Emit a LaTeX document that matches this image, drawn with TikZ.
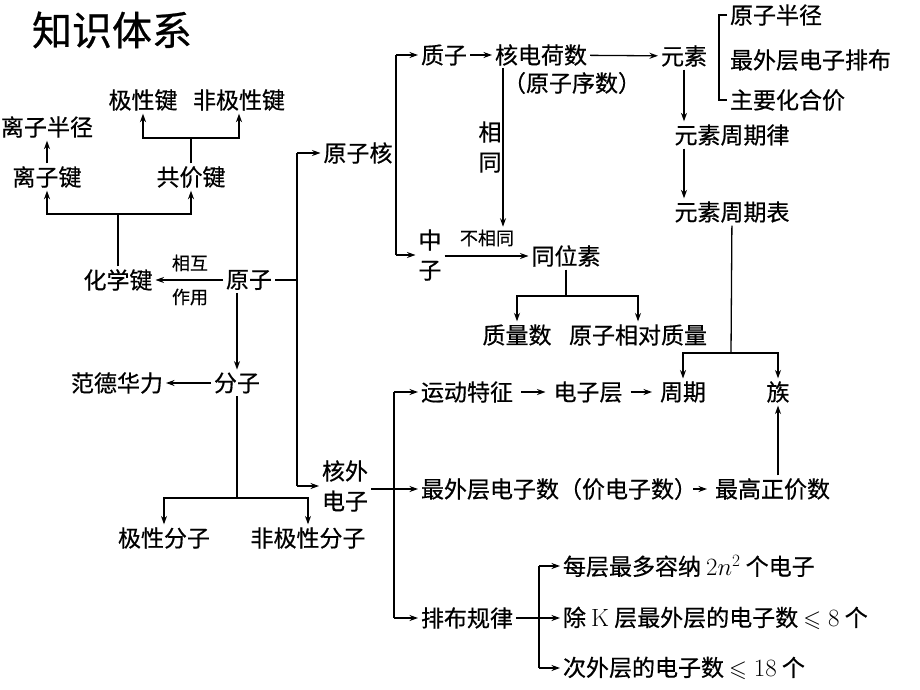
\documentclass[tikz,border=0pt]{standalone}
\usepackage{amssymb}
\usepackage[no-math]{fontspec}
\setmainfont{Noto Sans CJK SC}[FakeBold=0.6]
\usetikzlibrary{arrows.meta}
\tikzset{
  every node/.style={inner sep=0pt, outer sep=3pt, font=\fontsize{23}{30}\selectfont},
  small/.style={font=\fontsize{18}{34}\selectfont},
  titlef/.style={font=\fontsize{40}{44}\selectfont},
  conn/.style={line width=1.3pt},
  arr/.style={conn, -{Stealth[length=8.5pt,width=6pt]}},
  shortarr/.style={arr, shorten <=5pt, shorten >=5pt},
}
\begin{document}
\begin{tikzpicture}[x=1pt,y=-1pt]
\useasboundingbox (0,0) rectangle (920,690);
% title
\node[titlef] (title) at (112,30) {知识体系};
% left part
\node (lzbj) at (47,127) {离子半径};
\node (jxj) at (143,100) {极性键};
\node (fjxj) at (239,100) {非极性键};
\node (lzj) at (47,177) {离子键};
\node (gjj) at (191,177) {共价键};
\node (hxj) at (118,280) {化学键};
\node[small] (xh) at (190,263) {相互};
\node[small] (zy) at (190,297) {作用};
\node (yz) at (249,280) {原子};
\node (fz) at (237,383) {分子};
\node (fdhl) at (117,383) {范德华力};
\node (jxfz) at (164,538) {极性分子};
\node (fjxfz) at (308,538) {非极性分子};
% middle
\node (yzh) at (358,153) {原子核};
\node[align=center] (hwdz) at (345,486) {核外\\电子};
\node (zz) at (444,55) {质子};
\node (hdhs) at (541,55) {核电荷数};
\node (yzxs) at (572,83) {（原子序数）};
\node[align=center] (xt) at (490,147) {相\\同};
\node[align=center] (zhongzi) at (430,255) {中\\子};
\node[small] (bxt) at (487,238) {不相同};
\node (twsu) at (566,256) {同位素};
\node (zls) at (517,335) {质量数};
\node (yzxd) at (638,335) {原子相对质量};
% right top
\node (yuansu) at (684,56) {元素};
\node[anchor=west] (yzbj) at (727,15) {原子半径};
\node[anchor=west] (zwc) at (727,60) {最外层电子排布};
\node[anchor=west] (zyhhj) at (727,100) {主要化合价};
\node (zqlv) at (732,135) {元素周期律};
\node (zqb) at (732,212) {元素周期表};
% right middle
\node[anchor=west] (ydtz) at (418,392) {运动特征};
\node (dzc) at (588,392) {电子层};
\node (zq) at (683,392) {周期};
\node (zu) at (778,392) {族};
\node[anchor=west] (zwdzs) at (418,489) {最外层电子数（价电子数）};
\node[anchor=west] (zgzj) at (712,489) {最高正价数};
% right bottom
\node[anchor=west] (pbgl) at (418,618) {排布规律};
\node[anchor=west] (r1) at (560,566) {每层最多容纳 $2n^2$ 个电子};
\node[anchor=west] (r2) at (560,618) {除 $\mathrm{K}$ 层最外层的电子数 $\leqslant 8$ 个};
\node[anchor=west] (r3) at (560,668) {次外层的电子数 $\leqslant 18$ 个};

% coordinates
\coordinate (j1) at (297,280);
\coordinate (c1) at (297,153);
\coordinate (c2) at (297,486);
\coordinate (f1) at (118,214);
\coordinate (f2) at (191,138);
\coordinate (f3) at (237,498);
\coordinate (c3) at (396,55);
\coordinate (c4) at (396,255);
\coordinate (c5) at (503,68);
\coordinate (f4) at (566,296);
\coordinate (f5) at (731,353);
\coordinate (b1) at (719,15);
\coordinate (b2) at (719,100);
\coordinate (c7) at (394,392);
\coordinate (c8) at (394,618);
\coordinate (c10) at (539,566);
\coordinate (c11) at (539,668);
\coordinate (c9) at (539,618);

% connectors left
\draw[conn] (yz) -- (j1);
\draw[conn] (c1) -- (c2);
\draw[arr] (c1) -- (yzh);
\draw[arr] (c2) -- (hwdz);
\draw[arr] (yz) -- (hxj);
\draw[conn] (hxj) -- (f1);
\draw[arr] (f1) -| (lzj);
\draw[arr] (f1) -| (gjj);
\draw[arr] (lzj) -- (lzbj);
\draw[conn] (gjj) -- (f2);
\draw[arr] (f2) -| (jxj);
\draw[arr] (f2) -| (fjxj);
\draw[arr] (yz.south -| fz) -- (fz);
\draw[arr] (fz) -- (fdhl);
\draw[conn] (fz) -- (f3);
\draw[arr] (f3) -| (jxfz);
\draw[arr] (f3) -| (fjxfz);
% middle
\draw[conn] (yzh) -- (yzh -| c3);
\draw[conn] (c3) -- (c4);
\draw[arr] (c3) -- (zz);
\draw[arr] (c4) -- (zhongzi);
\draw[arr] (zz) -- (hdhs);
\draw[arr] (hdhs) -- (yuansu);
\draw[arr] (c5) -- (c5 |- bxt.north);
\draw[arr] (zhongzi.east |- twsu) -- (twsu);
\draw[conn] (twsu) -- (f4);
\draw[arr] (f4) -| (zls);
\draw[arr] (f4) -| (yzxd);
% right
\draw[conn] (yzbj.west) -- (b1) -- (b2) -- (zyhhj.west);
\draw[arr] (yuansu) -- (yuansu |- zqlv.north);
\draw[arr] (zqlv.south -| yuansu) -- (yuansu |- zqb.north);
\draw[conn] (zqb) -- (f5);
\draw[arr] (f5) -| (zq);
\draw[arr] (f5) -| (zu);
\draw[arr] (zgzj.north -| zu) -- (zu);
\draw[conn] (c7) -- (c8);
\draw[arr] (c7) -- (ydtz);
\draw[arr] (c8) -- (pbgl);
\draw[arr] (hwdz.east |- zwdzs.west) -- (zwdzs.west);
\draw[shortarr] (ydtz) -- (dzc);
\draw[shortarr] (dzc) -- (zq);
\draw[shortarr] ([xshift=-12pt]zwdzs.east) -- (zgzj);
\draw[conn] (pbgl) -- (c9);
\draw[conn] (c10) -- (c11);
\draw[arr] (c10) -- (r1);
\draw[arr] (c9) -- (r2);
\draw[arr] (c11) -- (r3);
\end{tikzpicture}
\end{document}
